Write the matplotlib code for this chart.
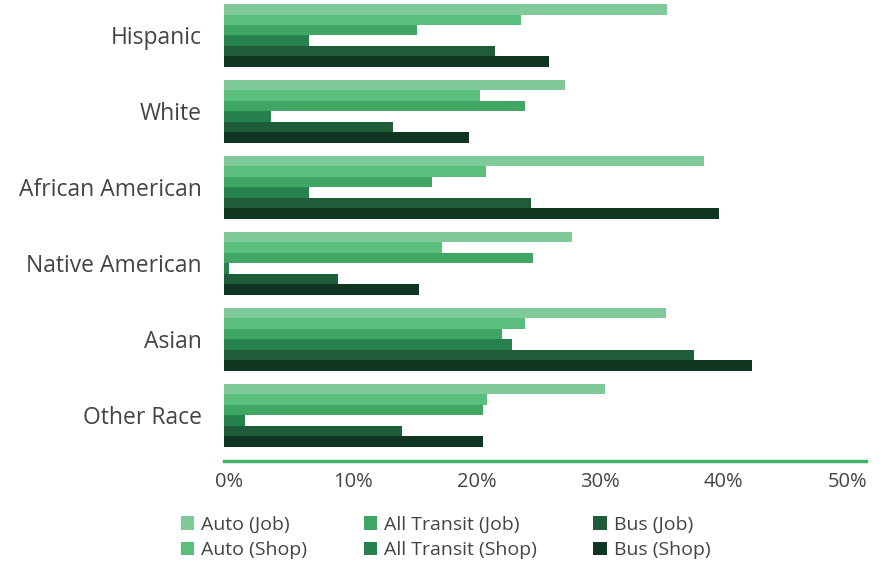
import numpy as np
import matplotlib
matplotlib.use("Agg")
import matplotlib.pyplot as plt
import matplotlib.transforms as mtransforms
from matplotlib.ticker import FuncFormatter

plt.rcParams['font.family'] = ['Open Sans', 'DejaVu Sans']

# categories, top to bottom
races = ["Hispanic", "White", "African American", "Native American", "Asian", "Other Race"]

# percent values
auto_job = [35.8, 27.6, 38.8, 28.1, 35.7, 30.8]
auto_shop = [24.0, 20.7, 21.2, 17.6, 24.3, 21.3]
transit_job = [15.6, 24.3, 16.8, 25.0, 22.5, 20.9]
transit_shop = [6.9, 3.8, 6.9, 0.4, 23.3, 1.7]
bus_job = [21.9, 13.7, 24.8, 9.2, 38.0, 14.4]
bus_shop = [26.3, 19.8, 40.0, 15.8, 42.7, 20.9]

series_names = ["Auto (Job)", "Auto (Shop)", "All Transit (Job)",
                "All Transit (Shop)", "Bus (Job)", "Bus (Shop)"]
colors = ["#7fca98", "#5abe7d", "#40a664", "#27814f", "#1f5c3a", "#0f3620"]

series = [auto_job, auto_shop, transit_job, transit_shop, bus_job, bus_shop]

fig = plt.figure(figsize=(8.94, 5.65), dpi=100)
ax = fig.add_axes([224 / 894, 104 / 565, 642 / 894, 461 / 565])

y = np.arange(len(races))
bar_h = 0.138
for i, (vals, name, c) in enumerate(zip(series, series_names, colors)):
    offs = (i - 2.5) * bar_h
    ax.barh(y + offs, vals, height=bar_h, color=c, label=name, linewidth=0)

ax.set_xlim(0, 51.9)
ax.set_ylim(5.6, -0.467)
ax.set_xticks([0, 10, 20, 30, 40, 50])
ax.xaxis.set_major_formatter(FuncFormatter(lambda v, p: f"{v:.0f}%"))
ax.set_yticks(y)
ax.set_yticklabels(races)

for s in ["top", "right", "left"]:
    ax.spines[s].set_visible(False)
ax.spines["bottom"].set_color("#45b26b")
ax.spines["bottom"].set_linewidth(2.5)

ax.tick_params(axis="y", length=0, pad=16, labelsize=16.5, labelcolor="#444444")
ax.tick_params(axis="x", length=0, pad=8, labelsize=14.5, labelcolor="#444444")
# nudge x labels a little to the right, like the original
shift = mtransforms.ScaledTranslation(5 / 100, 0, fig.dpi_scale_trans)
for lbl in ax.get_xticklabels():
    lbl.set_transform(lbl.get_transform() + shift)

fig.legend(loc="upper left", bbox_to_anchor=(171 / 894, 1 - 506 / 565), ncol=3,
           frameon=False, fontsize=14, handlelength=0.7, handleheight=0.7,
           handletextpad=0.35, columnspacing=2.9, labelspacing=0.38,
           borderpad=0, labelcolor="#444444")

plt.savefig("out.png", dpi=100)
plt.close()
